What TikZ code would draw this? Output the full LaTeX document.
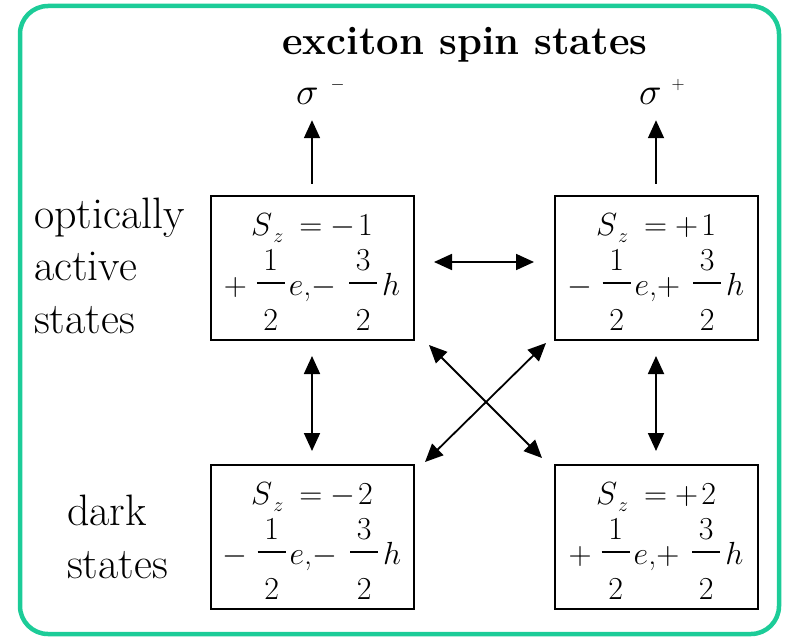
\RequirePackage{fix-cm}
\documentclass[tikz,border=0pt]{standalone}
\usetikzlibrary{arrows.meta}
\definecolor{framegreen}{RGB}{28,204,152}

% fraction: bar width 28pt, numerator up, denominator down
\newcommand{\fr}[2]{\makebox[28pt]{\rlap{\raisebox{25pt}{\makebox[28pt]{#1}}}\rlap{\raisebox{-35pt}{\makebox[28pt]{#2}}}\rule[11pt]{28pt}{1.6pt}}}
% S_z line
\newcommand{\sline}[2]{$S$\hspace{1pt}\raisebox{-7pt}{\fontsize{20}{20}\selectfont$z$}\hspace{16pt}$=$\hspace{8pt}$#1$\hspace{3pt}#2}
% e,h line
\newcommand{\eline}[2]{$#1$\hspace{10pt}\fr{1}{2}\hspace{4pt}$e$,$#2$\hspace{13pt}\fr{3}{2}\hspace{5pt}$h$}
\newcommand{\sig}[2]{$\sigma$\hspace{#2}\raisebox{15pt}{\fontsize{18}{18}\selectfont$#1$}}

\tikzset{
  statebox/.style={draw, line width=2pt, minimum width=203pt, minimum height=144pt, inner sep=0pt},
  eqline/.style={anchor=base, inner sep=0pt, font=\fontsize{32}{40}\selectfont},
  lbl/.style={anchor=base west, inner sep=0pt, font=\fontsize{44}{50}\selectfont},
  siglbl/.style={anchor=base west, inner sep=0pt, font=\fontsize{38}{40}\selectfont},
  arr/.style={line width=1.8pt, -{Triangle[length=18pt,width=16pt]}},
  dbl/.style={line width=1.8pt, {Triangle[length=18pt,width=16pt]}-{Triangle[length=18pt,width=16pt]}},
}

\begin{document}
\begin{tikzpicture}[x=1pt,y=-1pt]
\useasboundingbox (0,0) rectangle (789,639);
\draw[framegreen, line width=4.5pt, rounded corners=28pt] (20,6) rectangle (779,634);

\node[anchor=base, inner sep=0pt, font=\bfseries\fontsize{40}{48}\selectfont] (title) at (465,55) {exciton spin states};

% state boxes
\node[statebox] (TL) at (312,268) {};
\node[statebox] (TR) at (656,268) {};
\node[statebox] (BL) at (312,537) {};
\node[statebox] (BR) at (656,537) {};

\node[eqline] (TLa) at ([yshift=33pt]TL.center) {\sline{-}{1}};
\node[eqline] (TLb) at ([yshift=-27pt]TL.center) {\eline{+}{-}};
\node[eqline] (TRa) at ([yshift=33pt]TR.center) {\sline{+}{1}};
\node[eqline] (TRb) at ([yshift=-27pt]TR.center) {\eline{-}{+}};
\node[eqline] (BLa) at ([yshift=33pt]BL.center) {\sline{-}{2}};
\node[eqline] (BLb) at ([yshift=-27pt]BL.center) {\eline{-}{-}};
\node[eqline] (BRa) at ([yshift=33pt]BR.center) {\sline{+}{2}};
\node[eqline] (BRb) at ([yshift=-27pt]BR.center) {\eline{+}{+}};

% left labels
\node[lbl] (l1) at (34,228) {optically};
\node[lbl] (l2) at (34,280) {active};
\node[lbl] (l3) at (34,333) {states};
\node[lbl] (d1) at (67,525) {dark};
\node[lbl] (d2) at (67,578) {states};

% sigma labels
\node[siglbl] (sigm) at (296,105) {\sig{-}{12pt}};
\node[siglbl] (sigp) at (639,105) {\sig{+}{10pt}};

% arrows
\draw[arr, shorten <=11pt, shorten >=15pt] (TL.north) -- (TL.north |- sigm.south);
\draw[arr, shorten <=11pt, shorten >=15pt] (TR.north) -- (TR.north |- sigp.south);
\draw[dbl, shorten <=19.5pt, shorten >=19.5pt] ([yshift=6pt]TL.east) -- ([yshift=6pt]TR.west);
\draw[dbl, shorten <=15pt, shorten >=13pt] (TL.south) -- (BL.north);
\draw[dbl, shorten <=15pt, shorten >=13pt] (TR.south) -- (BR.north);
\coordinate (x1) at (429,345);
\coordinate (x2) at (542,458);
\coordinate (x3) at (546,343);
\coordinate (x4) at (425,462);
\draw[dbl] (x1) -- (x2);
\draw[dbl] (x3) -- (x4);
\end{tikzpicture}
\end{document}
